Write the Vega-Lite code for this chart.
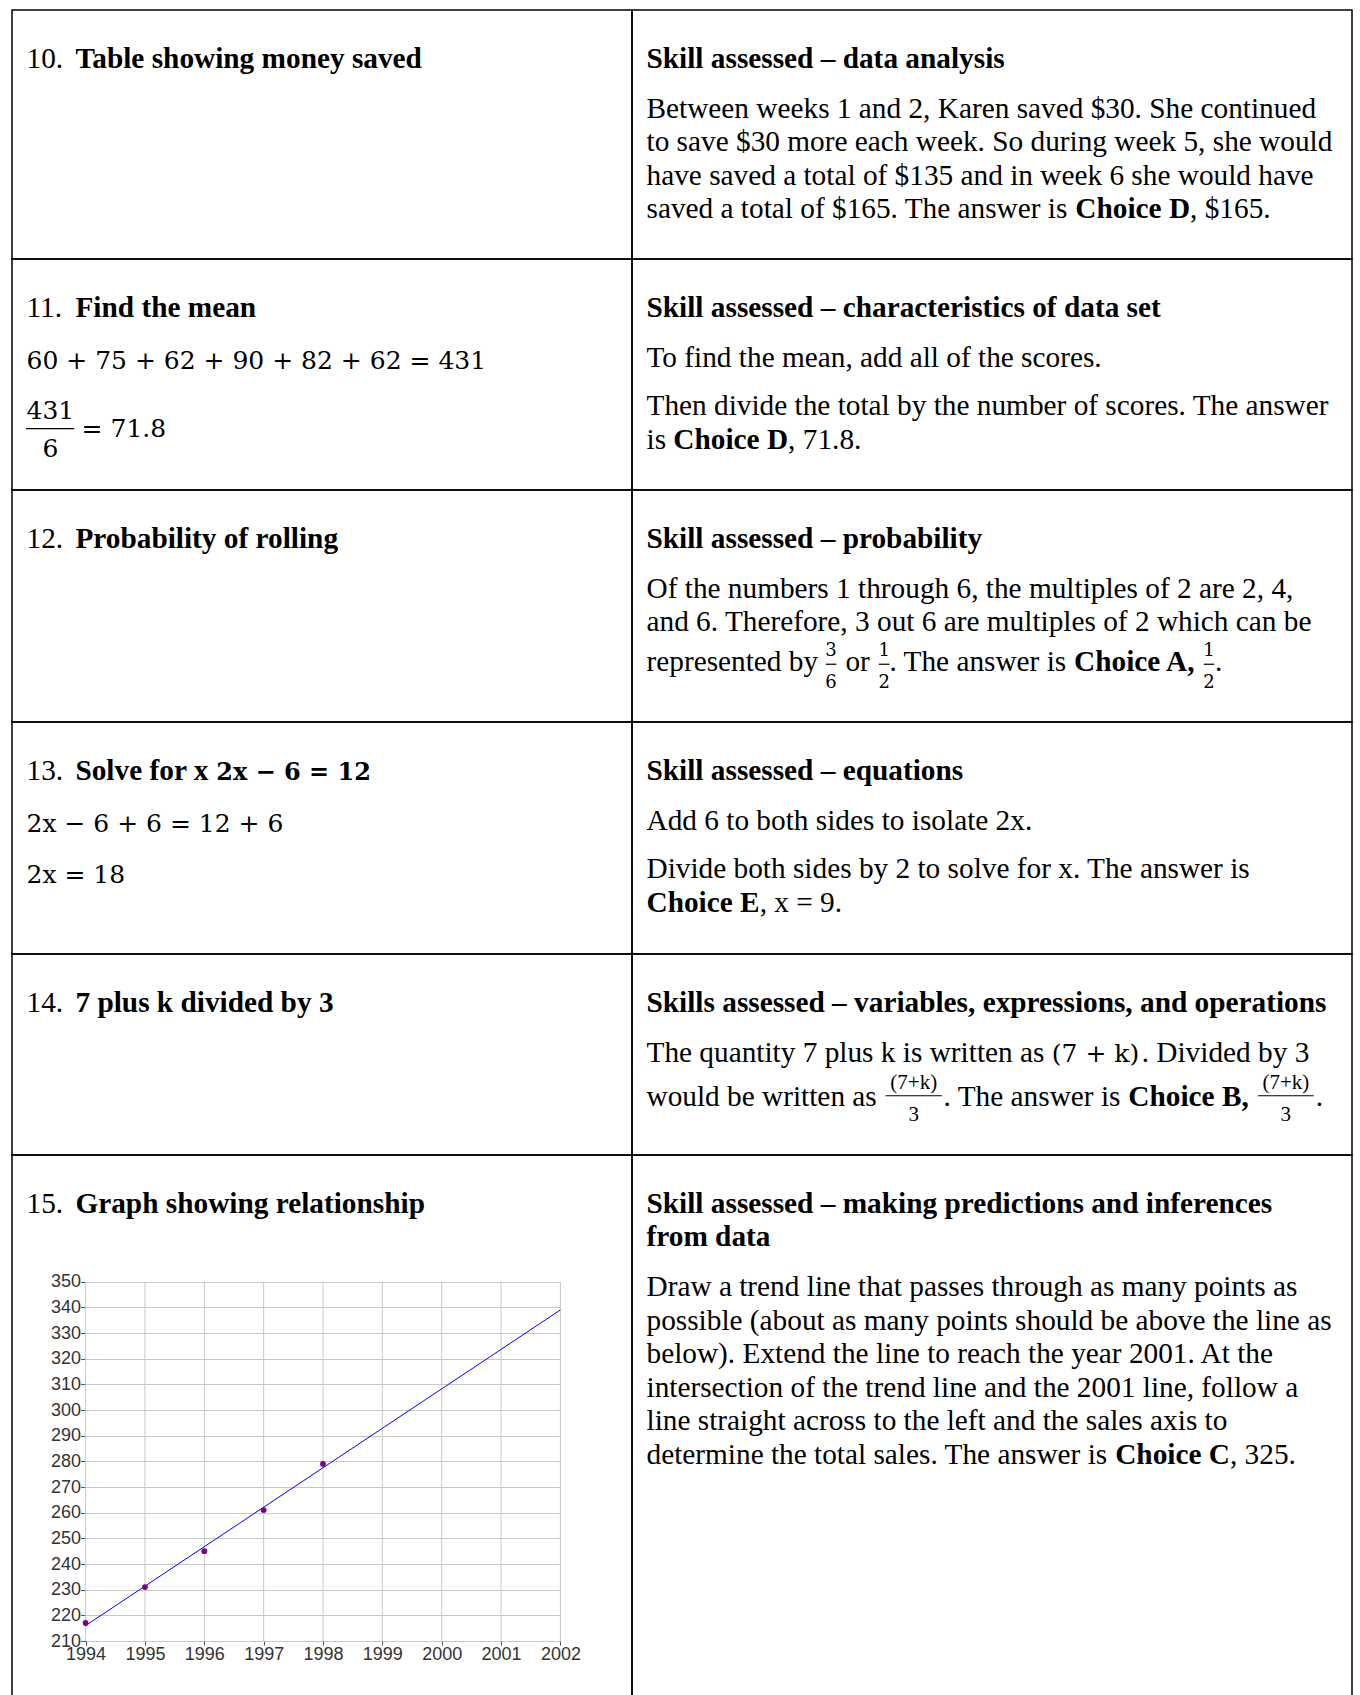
{
"$schema":"https://vega.github.io/schema/vega-lite/v6.json",
"padding":{"left":11,"top":9,"right":0,"bottom":0},
"background":"#ffffff",
"columns":2,
"spacing":0,
"bounds":"flush",
"align":"each",
"config":{
 "view":{"stroke":"#000000","strokeWidth":1.5},
 "text":{"font":"Liberation Serif","fontSize":29.3,"align":"left","baseline":"alphabetic","color":"#000000"}
},
"datasets":{
 "sales":[{"year":1994,"sales":217},{"year":1995,"sales":231},{"year":1996,"sales":245},{"year":1997,"sales":261},{"year":1998,"sales":279}],
 "trend":[{"year":1994,"sales":216},{"year":2002,"sales":339}],
 "years":[{"year":1994,"lo":210,"hi":350},{"year":1995,"lo":210,"hi":350},{"year":1996,"lo":210,"hi":350},{"year":1997,"lo":210,"hi":350},{"year":1998,"lo":210,"hi":350},{"year":1999,"lo":210,"hi":350},{"year":2000,"lo":210,"hi":350},{"year":2001,"lo":210,"hi":350},{"year":2002,"lo":210,"hi":350}],
 "txt":[
  {"c":"10L","s":"n","col":0,"line":0,"t":"10."},
  {"c":"10L","s":"b","col":1.67,"line":0,"t":"Table showing money saved"},
  {"c":"10R","s":"b","col":0,"line":0,"t":"Skill assessed – data analysis"},
  {"c":"10R","s":"n","col":0,"line":1.484,"t":"Between weeks 1 and 2, Karen saved $30. She continued"},
  {"c":"10R","s":"n","col":0,"line":2.484,"t":"to save $30 more each week. So during week 5, she would"},
  {"c":"10R","s":"n","col":0,"line":3.484,"t":"have saved a total of $135 and in week 6 she would have"},
  {"c":"10R","s":"n","col":0,"line":4.484,"t":"saved a total of $165. The answer is"},
  {"c":"10R","s":"b","col":14.636,"line":4.484,"t":"Choice D"},
  {"c":"10R","s":"n","col":18.552,"line":4.484,"t":", $165."},
  {"c":"11L","s":"n","col":0,"line":0,"t":"11."},
  {"c":"11L","s":"b","col":1.67,"line":0,"t":"Find the mean"},
  {"c":"11L","s":"m","col":0,"line":1.561,"t":"60 + 75 + 62 + 90 + 82 + 62 = 431"},
  {"c":"11L","s":"m","col":0,"line":3.036,"t":"431"},
  {"c":"11L","s":"r","col":-0.017,"col2":1.631,"line":3.334},
  {"c":"11L","s":"m","col":0.546,"line":4.179,"t":"6"},
  {"c":"11L","s":"m","col":1.88,"line":3.582,"t":"= 71.8"},
  {"c":"11R","s":"b","col":0,"line":0,"t":"Skill assessed – characteristics of data set"},
  {"c":"11R","s":"n","col":0,"line":1.484,"t":"To find the mean, add all of the scores."},
  {"c":"11R","s":"n","col":0,"line":2.936,"t":"Then divide the total by the number of scores. The answer"},
  {"c":"11R","s":"n","col":0,"line":3.936,"t":"is"},
  {"c":"11R","s":"b","col":0.917,"line":3.936,"t":"Choice D"},
  {"c":"11R","s":"n","col":4.833,"line":3.936,"t":", 71.8."},
  {"c":"12L","s":"n","col":0,"line":0,"t":"12."},
  {"c":"12L","s":"b","col":1.67,"line":0,"t":"Probability of rolling"},
  {"c":"12R","s":"b","col":0,"line":0,"t":"Skill assessed – probability"},
  {"c":"12R","s":"n","col":0,"line":1.484,"t":"Of the numbers 1 through 6, the multiples of 2 are 2, 4,"},
  {"c":"12R","s":"n","col":0,"line":2.484,"t":"and 6. Therefore, 3 out 6 are multiples of 2 which can be"},
  {"c":"12R","s":"n","col":0,"line":3.68,"t":"represented by"},
  {"c":"12R","s":"g","col":6.3,"line":3.23,"t":"3"},
  {"c":"12R","s":"r","col":6.12,"col2":6.48,"line":3.47},
  {"c":"12R","s":"g","col":6.3,"line":4.17,"t":"6"},
  {"c":"12R","s":"n","col":6.79,"line":3.68,"t":"or"},
  {"c":"12R","s":"g","col":8.11,"line":3.23,"t":"1"},
  {"c":"12R","s":"r","col":7.93,"col2":8.29,"line":3.47},
  {"c":"12R","s":"g","col":8.11,"line":4.17,"t":"2"},
  {"c":"12R","s":"n","col":8.29,"line":3.68,"t":". The answer is"},
  {"c":"12R","s":"b","col":14.594,"line":3.68,"t":"Choice A,"},
  {"c":"12R","s":"g","col":19.2,"line":3.23,"t":"1"},
  {"c":"12R","s":"r","col":19.02,"col2":19.38,"line":3.47},
  {"c":"12R","s":"g","col":19.2,"line":4.17,"t":"2"},
  {"c":"12R","s":"n","col":19.4,"line":3.68,"t":"."},
  {"c":"13L","s":"n","col":0,"line":0,"t":"13."},
  {"c":"13L","s":"b","col":1.67,"line":0,"t":"Solve for x"},
  {"c":"13L","s":"mb","col":6.475,"line":0,"t":"2x − 6 = 12"},
  {"c":"13L","s":"m","col":0,"line":1.561,"t":"2x − 6 + 6 = 12 + 6"},
  {"c":"13L","s":"m","col":0,"line":3.078,"t":"2x = 18"},
  {"c":"13R","s":"b","col":0,"line":0,"t":"Skill assessed – equations"},
  {"c":"13R","s":"n","col":0,"line":1.484,"t":"Add 6 to both sides to isolate 2x."},
  {"c":"13R","s":"n","col":0,"line":2.936,"t":"Divide both sides by 2 to solve for x. The answer is"},
  {"c":"13R","s":"b","col":0,"line":3.936,"t":"Choice E"},
  {"c":"13R","s":"n","col":3.861,"line":3.936,"t":", x = 9."},
  {"c":"14L","s":"n","col":0,"line":0,"t":"14."},
  {"c":"14L","s":"b","col":1.67,"line":0,"t":"7 plus k divided by 3"},
  {"c":"14R","s":"b","col":0,"line":0,"t":"Skills assessed – variables, expressions, and operations"},
  {"c":"14R","s":"n","col":0,"line":1.484,"t":"The quantity 7 plus k is written as"},
  {"c":"14R","s":"m","col":13.833,"line":1.484,"t":"(7 + k)"},
  {"c":"14R","s":"n","col":16.9,"line":1.484,"t":". Divided by 3"},
  {"c":"14R","s":"n","col":0,"line":2.81,"t":"would be written as"},
  {"c":"14R","s":"f","col":9.12,"line":2.29,"t":"(7+k)"},
  {"c":"14R","s":"r","col":8.16,"col2":10.08,"line":2.5},
  {"c":"14R","s":"f","col":9.12,"line":3.26,"t":"3"},
  {"c":"14R","s":"n","col":10.14,"line":2.81,"t":". The answer is"},
  {"c":"14R","s":"b","col":16.444,"line":2.81,"t":"Choice B,"},
  {"c":"14R","s":"f","col":21.82,"line":2.29,"t":"(7+k)"},
  {"c":"14R","s":"r","col":20.87,"col2":22.77,"line":2.5},
  {"c":"14R","s":"f","col":21.82,"line":3.26,"t":"3"},
  {"c":"14R","s":"n","col":22.84,"line":2.81,"t":"."},
  {"c":"15L","s":"n","col":0,"line":0,"t":"15."},
  {"c":"15L","s":"b","col":1.67,"line":0,"t":"Graph showing relationship"},
  {"c":"15R","s":"b","col":0,"line":0,"t":"Skill assessed – making predictions and inferences"},
  {"c":"15R","s":"b","col":0,"line":1,"t":"from data"},
  {"c":"15R","s":"n","col":0,"line":2.484,"t":"Draw a trend line that passes through as many points as"},
  {"c":"15R","s":"n","col":0,"line":3.484,"t":"possible (about as many points should be above the line as"},
  {"c":"15R","s":"n","col":0,"line":4.484,"t":"below). Extend the line to reach the year 2001. At the"},
  {"c":"15R","s":"n","col":0,"line":5.484,"t":"intersection of the trend line and the 2001 line, follow a"},
  {"c":"15R","s":"n","col":0,"line":6.484,"t":"line straight across to the left and the sales axis to"},
  {"c":"15R","s":"n","col":0,"line":7.484,"t":"determine the total sales. The answer is"},
  {"c":"15R","s":"b","col":15.997,"line":7.484,"t":"Choice C"},
  {"c":"15R","s":"n","col":19.913,"line":7.484,"t":", 325."}
 ]
},
"concat":[
  {"width":620,"height":249,"data":{"name":"txt"},"transform":[{"filter":"datum.c==='10L'"}],
   "encoding":{"x":{"field":"col","type":"quantitative","scale":{"domain":[-0.49488,20.6655]},"axis":null},
               "y":{"field":"line","type":"quantitative","scale":{"domain":[-1.73134,5.70149],"reverse":true},"axis":null}},
   "layer":[
    {"transform":[{"filter":"datum.s==='n'"}],"mark":{"type":"text"},"encoding":{"text":{"field":"t"}}},
    {"transform":[{"filter":"datum.s==='b'"}],"mark":{"type":"text","fontWeight":"bold"},"encoding":{"text":{"field":"t"}}}
   ]},
  {"width":720,"height":249,"data":{"name":"txt"},"transform":[{"filter":"datum.c==='10R'"}],
   "encoding":{"x":{"field":"col","type":"quantitative","scale":{"domain":[-0.49488,24.0785]},"axis":null},
               "y":{"field":"line","type":"quantitative","scale":{"domain":[-1.73134,5.70149],"reverse":true},"axis":null}},
   "layer":[
    {"transform":[{"filter":"datum.s==='n'"}],"mark":{"type":"text"},"encoding":{"text":{"field":"t"}}},
    {"transform":[{"filter":"datum.s==='b'"}],"mark":{"type":"text","fontWeight":"bold"},"encoding":{"text":{"field":"t"}}}
   ]},
  {"width":620,"height":231,"data":{"name":"txt"},"transform":[{"filter":"datum.c==='11L'"}],
   "encoding":{"x":{"field":"col","type":"quantitative","scale":{"domain":[-0.49488,20.6655]},"axis":null},
               "y":{"field":"line","type":"quantitative","scale":{"domain":[-1.73134,5.16418],"reverse":true},"axis":null}},
   "layer":[
    {"transform":[{"filter":"datum.s==='n'"}],"mark":{"type":"text"},"encoding":{"text":{"field":"t"}}},
    {"transform":[{"filter":"datum.s==='b'"}],"mark":{"type":"text","fontWeight":"bold"},"encoding":{"text":{"field":"t"}}},
    {"transform":[{"filter":"datum.s==='m'"}],"mark":{"type":"text","font":"DejaVu Serif","fontSize":25},"encoding":{"text":{"field":"t"}}},
    {"transform":[{"filter":"datum.s==='r'"}],"mark":{"type":"rule","color":"#000000","strokeWidth":1.3},"encoding":{"x2":{"field":"col2"}}}
   ]},
  {"width":720,"height":231,"data":{"name":"txt"},"transform":[{"filter":"datum.c==='11R'"}],
   "encoding":{"x":{"field":"col","type":"quantitative","scale":{"domain":[-0.49488,24.0785]},"axis":null},
               "y":{"field":"line","type":"quantitative","scale":{"domain":[-1.73134,5.16418],"reverse":true},"axis":null}},
   "layer":[
    {"transform":[{"filter":"datum.s==='n'"}],"mark":{"type":"text"},"encoding":{"text":{"field":"t"}}},
    {"transform":[{"filter":"datum.s==='b'"}],"mark":{"type":"text","fontWeight":"bold"},"encoding":{"text":{"field":"t"}}}
   ]},
  {"width":620,"height":232,"data":{"name":"txt"},"transform":[{"filter":"datum.c==='12L'"}],
   "encoding":{"x":{"field":"col","type":"quantitative","scale":{"domain":[-0.49488,20.6655]},"axis":null},
               "y":{"field":"line","type":"quantitative","scale":{"domain":[-1.73134,5.19403],"reverse":true},"axis":null}},
   "layer":[
    {"transform":[{"filter":"datum.s==='n'"}],"mark":{"type":"text"},"encoding":{"text":{"field":"t"}}},
    {"transform":[{"filter":"datum.s==='b'"}],"mark":{"type":"text","fontWeight":"bold"},"encoding":{"text":{"field":"t"}}}
   ]},
  {"width":720,"height":232,"data":{"name":"txt"},"transform":[{"filter":"datum.c==='12R'"}],
   "encoding":{"x":{"field":"col","type":"quantitative","scale":{"domain":[-0.49488,24.0785]},"axis":null},
               "y":{"field":"line","type":"quantitative","scale":{"domain":[-1.73134,5.19403],"reverse":true},"axis":null}},
   "layer":[
    {"transform":[{"filter":"datum.s==='n'"}],"mark":{"type":"text"},"encoding":{"text":{"field":"t"}}},
    {"transform":[{"filter":"datum.s==='b'"}],"mark":{"type":"text","fontWeight":"bold"},"encoding":{"text":{"field":"t"}}},
    {"transform":[{"filter":"datum.s==='g'"}],"mark":{"type":"text","font":"DejaVu Serif","fontSize":18,"align":"center"},"encoding":{"text":{"field":"t"}}},
    {"transform":[{"filter":"datum.s==='r'"}],"mark":{"type":"rule","color":"#000000","strokeWidth":1.2},"encoding":{"x2":{"field":"col2"}}}
   ]},
  {"width":620,"height":232,"data":{"name":"txt"},"transform":[{"filter":"datum.c==='13L'"}],
   "encoding":{"x":{"field":"col","type":"quantitative","scale":{"domain":[-0.49488,20.6655]},"axis":null},
               "y":{"field":"line","type":"quantitative","scale":{"domain":[-1.73134,5.19403],"reverse":true},"axis":null}},
   "layer":[
    {"transform":[{"filter":"datum.s==='n'"}],"mark":{"type":"text"},"encoding":{"text":{"field":"t"}}},
    {"transform":[{"filter":"datum.s==='b'"}],"mark":{"type":"text","fontWeight":"bold"},"encoding":{"text":{"field":"t"}}},
    {"transform":[{"filter":"datum.s==='m'"}],"mark":{"type":"text","font":"DejaVu Serif","fontSize":25},"encoding":{"text":{"field":"t"}}},
    {"transform":[{"filter":"datum.s==='mb'"}],"mark":{"type":"text","font":"DejaVu Serif","fontSize":24,"fontWeight":"bold"},"encoding":{"text":{"field":"t"}}}
   ]},
  {"width":720,"height":232,"data":{"name":"txt"},"transform":[{"filter":"datum.c==='13R'"}],
   "encoding":{"x":{"field":"col","type":"quantitative","scale":{"domain":[-0.49488,24.0785]},"axis":null},
               "y":{"field":"line","type":"quantitative","scale":{"domain":[-1.73134,5.19403],"reverse":true},"axis":null}},
   "layer":[
    {"transform":[{"filter":"datum.s==='n'"}],"mark":{"type":"text"},"encoding":{"text":{"field":"t"}}},
    {"transform":[{"filter":"datum.s==='b'"}],"mark":{"type":"text","fontWeight":"bold"},"encoding":{"text":{"field":"t"}}}
   ]},
  {"width":620,"height":201,"data":{"name":"txt"},"transform":[{"filter":"datum.c==='14L'"}],
   "encoding":{"x":{"field":"col","type":"quantitative","scale":{"domain":[-0.49488,20.6655]},"axis":null},
               "y":{"field":"line","type":"quantitative","scale":{"domain":[-1.73134,4.26866],"reverse":true},"axis":null}},
   "layer":[
    {"transform":[{"filter":"datum.s==='n'"}],"mark":{"type":"text"},"encoding":{"text":{"field":"t"}}},
    {"transform":[{"filter":"datum.s==='b'"}],"mark":{"type":"text","fontWeight":"bold"},"encoding":{"text":{"field":"t"}}}
   ]},
  {"width":720,"height":201,"data":{"name":"txt"},"transform":[{"filter":"datum.c==='14R'"}],
   "encoding":{"x":{"field":"col","type":"quantitative","scale":{"domain":[-0.49488,24.0785]},"axis":null},
               "y":{"field":"line","type":"quantitative","scale":{"domain":[-1.73134,4.26866],"reverse":true},"axis":null}},
   "layer":[
    {"transform":[{"filter":"datum.s==='n'"}],"mark":{"type":"text"},"encoding":{"text":{"field":"t"}}},
    {"transform":[{"filter":"datum.s==='b'"}],"mark":{"type":"text","fontWeight":"bold"},"encoding":{"text":{"field":"t"}}},
    {"transform":[{"filter":"datum.s==='m'"}],"mark":{"type":"text","font":"DejaVu Serif","fontSize":25},"encoding":{"text":{"field":"t"}}},
    {"transform":[{"filter":"datum.s==='f'"}],"mark":{"type":"text","fontSize":21,"align":"center"},"encoding":{"text":{"field":"t"}}},
    {"transform":[{"filter":"datum.s==='r'"}],"mark":{"type":"rule","color":"#000000","strokeWidth":1.2},"encoding":{"x2":{"field":"col2"}}}
   ]},
  {"width":620,"height":541,
   "resolve":{"scale":{"x":"independent","y":"independent"}},
   "layer":[
    {"data":{"name":"txt"},"transform":[{"filter":"datum.c==='15L'"}],
     "encoding":{"x":{"field":"col","type":"quantitative","scale":{"domain":[-0.49488,20.6655]},"axis":null},
                 "y":{"field":"line","type":"quantitative","scale":{"domain":[-1.73134,14.41791],"reverse":true},"axis":null}},
     "layer":[
      {"transform":[{"filter":"datum.s==='n'"}],"mark":{"type":"text"},"encoding":{"text":{"field":"t"}}},
      {"transform":[{"filter":"datum.s==='b'"}],"mark":{"type":"text","fontWeight":"bold"},"encoding":{"text":{"field":"t"}}}
     ]},
    {"encoding":{
      "x":{"field":"year","type":"quantitative","scale":{"domain":[1994,2002],"range":[73.6,548.4]},
           "axis":{"orient":"bottom","offset":-55,"values":[1994,1995,1996,1997,1998,1999,2000,2001,2002],"format":"d","grid":false,"domain":false,"ticks":true,"tickSize":4,"tickColor":"#555555","labelFont":"Liberation Sans","labelFontSize":18,"labelColor":"#333333","labelPadding":0,"labelFlush":false,"labelOverlap":false,"title":null}},
      "y":{"field":"sales","type":"quantitative","scale":{"domain":[210,350],"range":[486,126.7]},
           "axis":{"orient":"left","offset":-73.6,"values":[210,220,230,240,250,260,270,280,290,300,310,320,330,340,350],"grid":true,"gridColor":"#c8c8c8","gridWidth":1,"domain":false,"ticks":true,"tickSize":5,"tickColor":"#555555","labelFont":"Liberation Sans","labelFontSize":18,"labelColor":"#333333","labelPadding":0,"labelFlush":false,"labelOverlap":false,"title":null}}},
     "layer":[
      {"data":{"name":"years"},"mark":{"type":"rule","color":"#c8c8c8","strokeWidth":1},"encoding":{"y":{"field":"lo","type":"quantitative"},"y2":{"field":"hi"}}},
      {"data":{"name":"trend"},"mark":{"type":"line","color":"#0000ff","strokeWidth":1}},
      {"data":{"name":"sales"},"mark":{"type":"circle","color":"#800080","size":34,"opacity":1}}
     ]}
   ]},
  {"width":720,"height":541,"data":{"name":"txt"},"transform":[{"filter":"datum.c==='15R'"}],
   "encoding":{"x":{"field":"col","type":"quantitative","scale":{"domain":[-0.49488,24.0785]},"axis":null},
               "y":{"field":"line","type":"quantitative","scale":{"domain":[-1.73134,14.41791],"reverse":true},"axis":null}},
   "layer":[
    {"transform":[{"filter":"datum.s==='n'"}],"mark":{"type":"text"},"encoding":{"text":{"field":"t"}}},
    {"transform":[{"filter":"datum.s==='b'"}],"mark":{"type":"text","fontWeight":"bold"},"encoding":{"text":{"field":"t"}}}
   ]}
]
}
